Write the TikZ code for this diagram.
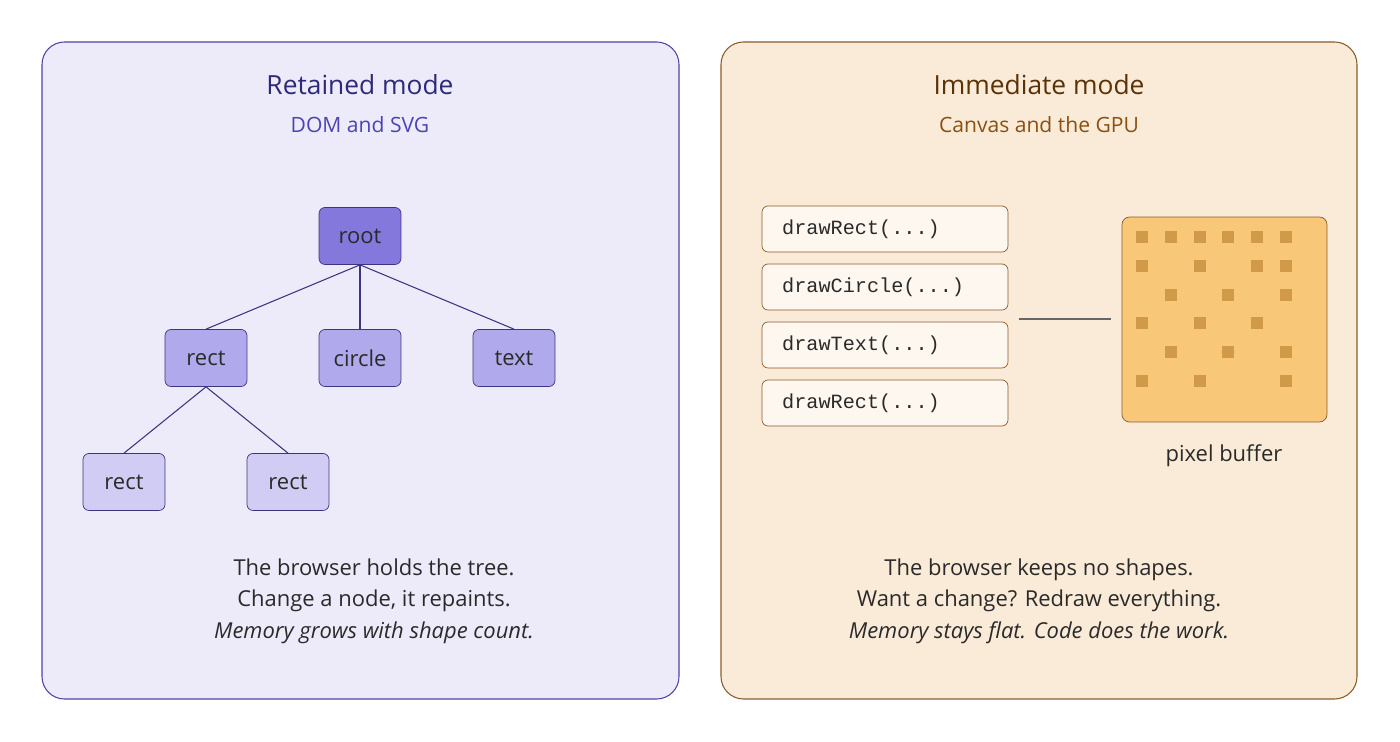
\documentclass[tikz,border=0pt]{standalone}
\usepackage{fontspec}
\setmainfont{Open Sans}
\newfontfamily\codefont{Liberation Mono}
\definecolor{retainbg}{HTML}{EDEBFA}
\definecolor{retainline}{HTML}{4B44A8}
\definecolor{retaintitle}{HTML}{2E2A7A}
\definecolor{retainsub}{HTML}{4B44B8}
\definecolor{rootfill}{HTML}{8478DC}
\definecolor{midfill}{HTML}{B0AAEC}
\definecolor{leaffill}{HTML}{D0CCF4}
\definecolor{nodeline}{HTML}{3B3480}
\definecolor{immbg}{HTML}{FAEBD8}
\definecolor{immline}{HTML}{8B5A2B}
\definecolor{immtitle}{HTML}{5A3208}
\definecolor{immsub}{HTML}{8B5010}
\definecolor{bufffill}{HTML}{F8C878}
\definecolor{buffdot}{HTML}{D09A48}
\definecolor{bodytext}{HTML}{2A2A2A}
\tikzset{
  panel/.style={rounded corners=0.45cm, line width=0.6pt},
  tree-node/.style={draw=nodeline, rounded corners=0.12cm, minimum width=1.64cm,
    minimum height=1.14cm, inner sep=0pt, font=\fontsize{12.5}{14}\selectfont, text=bodytext},
  tree-edge/.style={draw=nodeline, line width=0.6pt},
  code-box/.style={draw=immline, fill=white!60!immbg, rounded corners=0.12cm,
    minimum width=4.92cm, minimum height=0.92cm, inner sep=0pt},
  code-text/.style={anchor=west, font=\codefont\fontsize{11.5}{13}\selectfont, text=bodytext},
  title/.style={font=\fontsize{15}{18}\selectfont},
  subtitle/.style={font=\fontsize{12}{14}\selectfont},
  body/.style={font=\fontsize{12.5}{18}\selectfont, text=bodytext, align=center}
}
\begin{document}
\begin{tikzpicture}[x=0.02cm, y=-0.02cm]
  \useasboundingbox (0,0) rectangle (1400,742);
  % Retained mode panel
  \draw[panel, fill=retainbg, draw=retainline] (42,42) rectangle (679,699);
  \node[title, text=retaintitle] (rtitle) at (360,85) {Retained mode};
  \node[subtitle, text=retainsub] (rsub) at (360,125) {DOM and SVG};
  \node[tree-node, fill=rootfill] (root) at (360,236) {root};
  \node[tree-node, fill=midfill] (rect1) at (206,358) {rect};
  \node[tree-node, fill=midfill] (circ) at (360,358) {circle};
  \node[tree-node, fill=midfill] (txt) at (514,358) {text};
  \node[tree-node, fill=leaffill] (leafa) at (124,482) {rect};
  \node[tree-node, fill=leaffill] (leafb) at (288,482) {rect};
  \foreach \child in {rect1, circ, txt}
    \draw[tree-edge] (root.south) -- (\child.north);
  \foreach \child in {leafa, leafb}
    \draw[tree-edge] (rect1.south) -- (\child.north);
  \node[body] (rnote) at (374,601) {The browser holds the tree.\\
    Change a node, it repaints.\\ \textit{Memory grows with shape count.}};
  % Immediate mode panel
  \draw[panel, fill=immbg, draw=immline] (721,42) rectangle (1357,699);
  \node[title, text=immtitle] (ititle) at (1039,85) {Immediate mode};
  \node[subtitle, text=immsub] (isub) at (1039,125) {Canvas and the GPU};
  \foreach \y/\name/\call in {229/c1/{drawRect(...)}, 287/c2/{drawCircle(...)},
                              345/c3/{drawText(...)}, 403/c4/{drawRect(...)}} {
    \node[code-box] (\name) at (885,\y) {};
    \node[code-text] (\name-text) at (776,\y) {\call};
  }
  \node[draw=immline, fill=bufffill, rounded corners=0.15cm, minimum width=4.1cm,
    minimum height=4.1cm, inner sep=0pt] (buffer) at (1224.5,319.5) {};
  \coordinate (stackend) at (1019,319);
  \coordinate (bufferin) at (1111,319);
  \draw[line width=1.2pt, draw=gray!80!black] (stackend) -- (bufferin);
  % pixels: row / columns
  \foreach \row/\cols in {0/{0,1,2,3,4,5}, 1/{0,2,4,5}, 2/{1,3,5},
                          3/{0,2,4}, 4/{1,3,5}, 5/{0,2,5}}
    \foreach \col in \cols
      \fill[buffdot] ({1142+28.8*\col-6},{237+28.8*\row-6}) rectangle ++(12,12);
  \node[body] (blabel) at (1224,456) {pixel buffer};
  \node[body] (inote) at (1039,601) {The browser keeps no shapes.\\
    Want a change? Redraw everything.\\ \textit{Memory stays flat. Code does the work.}};
\end{tikzpicture}
\end{document}
